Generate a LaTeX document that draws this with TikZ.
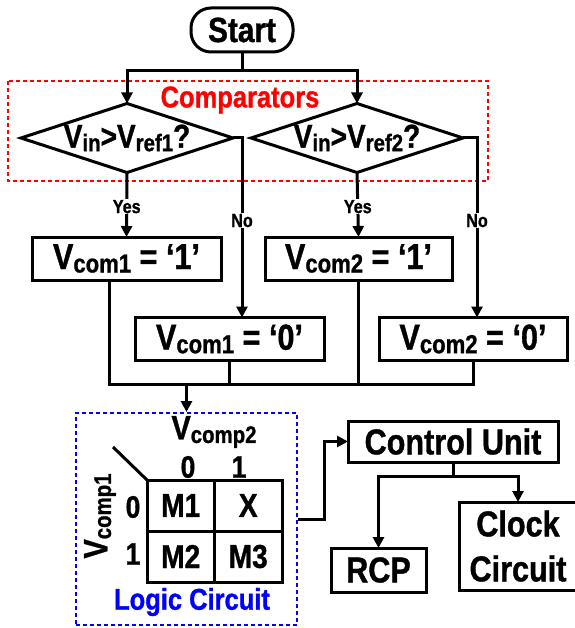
\documentclass[tikz,border=0pt]{standalone}
\usepackage{fontspec}
\setmainfont{Liberation Sans}[FakeStretch=0.85, BoldFeatures={FakeBold=1}]
\usetikzlibrary{shapes.geometric,arrows.meta}
\newcommand{\subtxt}[2][24]{\raisebox{-3.5pt}{\fontsize{#1}{#1}\selectfont #2}}

\begin{document}
\begin{tikzpicture}[x=1pt, y=-1pt, line width=3pt,
  arr/.style={-{Triangle[length=11pt,width=11pt]}},
  big/.style={font=\fontsize{35}{45}\selectfont\bfseries},
  box/.style={draw, inner sep=0pt, outer sep=0pt, minimum height=43pt,
    font=\fontsize{36}{45}\selectfont\bfseries},
  decision/.style={draw, diamond, aspect=3.07, inner sep=0pt, outer sep=0pt,
    minimum width=212pt, minimum height=69pt, font=\fontsize{33}{33}\selectfont\bfseries},
  yn/.style={fill=white, inner sep=1pt, font=\fontsize{19}{19}\selectfont\bfseries},
  kl/.style={font=\fontsize{31}{31}\selectfont\bfseries},
  group/.style={line width=2pt, dash pattern=on 4pt off 3pt}]
  \useasboundingbox (0,0) rectangle (574,628);

  \node[big, draw, rounded corners=20pt, minimum width=102pt, minimum height=44pt,
    inner sep=0pt] (start) at (242,30) {Start};
  \draw[red, group] (8,81) rectangle (488,181);
  \node[red, font=\fontsize{30}{30}\selectfont\bfseries] (cmplbl) at (240,100) {Comparators};
  \node[decision] (cmp1) at (127,138) {V\subtxt{in}>V\subtxt{ref1}?};
  \node[decision] (cmp2) at (357,138) {V\subtxt{in}>V\subtxt{ref2}?};

  \foreach \n/\x/\y/\w/\t in {
    c1one/126.5/258.5/189/{V\subtxt[26]{com1} = ‘1’},
    c2one/358.5/258.5/187/{V\subtxt[26]{com2} = ‘1’},
    c1zero/229.5/339/189/{V\subtxt[26]{com1} = ‘0’},
    c2zero/473/339/188/{V\subtxt[26]{com2} = ‘0’}} {
    \node[box, minimum width=\w pt] (\n) at (\x,\y) {\t};
  }

  \coordinate (split) at (242,71);
  \draw (start.south) -- (split);
  \draw[arr] (split) -| (cmp1.north);
  \draw[arr] (split) -| (cmp2.north);
  \draw[arr] (cmp1.south) -- node[yn, pos=0.53] {Yes} (c1one.north);
  \draw[arr] (cmp2.south) -- node[yn, pos=0.53] {Yes} (c2one.north);
  \draw[arr] (cmp1.east) -| node[yn, pos=0.73] {No} ([xshift=12.5pt]c1zero.north);
  \draw[arr] (cmp2.east) -| node[yn, pos=0.73] {No} ([xshift=4pt]c2zero.north);

  \node[draw=blue, group, minimum width=221pt, minimum height=212pt, inner sep=0pt]
    (logic) at (186.5,519) {};
  \node[blue, font=\fontsize{30}{30}\selectfont\bfseries] (logiclbl) at (192,602) {Logic Circuit};

  \coordinate (bus) at (0,384);
  \draw ([xshift=-17.5pt]c1one.south) |- (c2zero.south |- bus) -- (c2zero.south);
  \draw (c1zero.south) -- (c1zero.south |- bus);
  \draw (c2one.south) -- (c2one.south |- bus);
  \draw[arr] (logic.north |- bus) -- (logic.north);

  \foreach \n/\x/\y/\t in {m1/180.75/505.5/M1, mx/248.25/505.5/X,
    m2/180.75/556.5/M2, m3/248.25/556.5/M3} {
    \node[draw, minimum width=67.5pt, minimum height=51pt, inner sep=0pt, outer sep=0pt,
      font=\fontsize{33}{33}\selectfont\bfseries] (\n) at (\x,\y) {\t};
  }
  \node[font=\fontsize{34}{34}\selectfont\bfseries] (vc2) at (214,432) {V\subtxt{comp2}};
  \node[font=\fontsize{34}{34}\selectfont\bfseries, rotate=90] (vc1) at (100,516) {V\subtxt{comp1}};
  \node[kl] (col0) at (188,467) {0};
  \node[kl] (col1) at (239,467) {1};
  \node[kl] (row0) at (133,507) {0};
  \node[kl] (row1) at (133,554) {1};
  \coordinate (diag) at (113,447);
  \draw (diag) -- (m1.north west);

  \node[box, minimum width=210pt, minimum height=41pt] (ctrl) at (453,441.5) {Control Unit};
  \node[box, minimum width=95pt, minimum height=44pt] (rcp) at (378.5,570) {RCP};
  \node[box, minimum width=118pt, minimum height=88pt, align=center] (clock) at (518,546)
    {Clock\\Circuit};
  \draw[arr] (logic.east) -- ++(26,0) |- (ctrl.west);
  \draw (ctrl.south) -- ++(0,14) coordinate (cu);
  \draw[arr] (cu) -| (rcp.north);
  \draw[arr] (cu) -| (clock.north);
\end{tikzpicture}
\end{document}
